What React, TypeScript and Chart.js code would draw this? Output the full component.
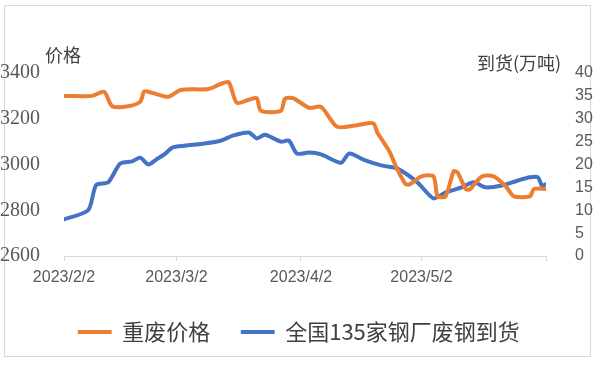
import React, { useEffect, useRef } from "react";
import { Chart, registerables } from "chart.js";

Chart.register(...registerables);

// x positions are days counted from 2023/2/2
const tickDays = [0, 28, 59, 89, 120];
const tickLabels = ["2023/2/2", "2023/3/2", "2023/4/2", "2023/5/2", ""];

const priceLabel = "重废价格";
const arrivalLabel = "全国135家钢厂废钢到货";

const priceDays = [0, 7, 10, 12, 16, 19, 20, 22, 26, 29, 36, 39, 41, 43, 46, 48, 49, 54, 55, 57, 61, 64, 68, 73, 77, 78, 81, 83, 85, 86, 89, 92, 93, 95, 97, 98, 100, 101, 104, 107, 110, 112, 116, 117, 120];
const priceValues = [3300, 3300, 3318, 3255, 3255, 3275, 3320, 3313, 3296, 3326, 3330, 3352, 3360, 3270, 3283, 3290, 3235, 3235, 3287, 3290, 3248, 3252, 3165, 3172, 3180, 3140, 3057, 2978, 2915, 2913, 2948, 2948, 2861, 2861, 2970, 2965, 2893, 2891, 2948, 2948, 2904, 2861, 2861, 2893, 2893];

const arrivalDays = [0, 6, 8, 11, 14, 17, 19, 21, 23, 25, 27, 30, 35, 39, 42, 46, 48, 50, 54, 56, 58, 61, 64, 69, 71, 75, 79, 83, 88, 92, 95, 99, 102, 105, 109, 113, 116, 118, 119, 120];
const arrivalValues = [8.0, 10.0, 15.5, 16.1, 20.2, 20.7, 21.5, 20.0, 21.1, 22.2, 23.7, 24.1, 24.6, 25.2, 26.3, 27.0, 25.7, 26.5, 25.0, 25.2, 22.4, 22.6, 22.2, 20.4, 22.4, 20.9, 19.8, 19.1, 16.1, 12.6, 13.9, 15.0, 16.1, 15.0, 15.4, 16.5, 17.2, 17.2, 15.4, 15.7];

const leftTitle = "价格";
const rightTitle = "到货(万吨)";

const ORANGE = "#ED7D31";
const BLUE = "#4472C4";
const GREY = "#595959";
const AXIS = "#d9d9d9";
const CJK = '"Noto Sans CJK SC", "Noto Sans", sans-serif';

const titlesPlugin = {
  id: "cornerTitles",
  afterDraw(chart: any) {
    const { ctx, chartArea } = chart;
    ctx.save();
    ctx.font = `18px ${CJK}`;
    ctx.fillStyle = "#404040";
    ctx.textBaseline = "middle";
    ctx.textAlign = "left";
    ctx.fillText(leftTitle, chartArea.left - 19, chartArea.top - 18);
    ctx.fillText(rightTitle, chartArea.right - 69, chartArea.top - 10);
    ctx.restore();
  },
};

export default function App() {
  const ref = useRef<HTMLCanvasElement | null>(null);

  useEffect(() => {
    if (!ref.current) return;
    const chart = new Chart(ref.current, {
      type: "line",
      data: {
        datasets: [
          {
            label: priceLabel,
            data: priceDays.map((d, i) => ({ x: d, y: priceValues[i] })),
            borderColor: ORANGE,
            backgroundColor: ORANGE,
            borderWidth: 4,
            pointRadius: 0,
            tension: 0.25,
            borderCapStyle: "round",
            borderJoinStyle: "round",
            yAxisID: "y",
          },
          {
            label: arrivalLabel,
            data: arrivalDays.map((d, i) => ({ x: d, y: arrivalValues[i] })),
            borderColor: BLUE,
            backgroundColor: BLUE,
            borderWidth: 4,
            pointRadius: 0,
            tension: 0.25,
            borderCapStyle: "round",
            borderJoinStyle: "round",
            yAxisID: "y1",
          },
        ],
      },
      options: {
        responsive: false,
        devicePixelRatio: 1,
        animation: false,
        layout: { padding: { top: 73, bottom: 12, left: 0, right: 0 } },
        plugins: {
          tooltip: { enabled: false },
          legend: {
            position: "bottom",
            labels: {
              boxWidth: 33,
              boxHeight: 3,
              padding: 31,
              color: "#404040",
              font: { family: CJK, size: 22 },
              generateLabels: (c: any) =>
                c.data.datasets.map((ds: any, i: number) => ({
                  text: ds.label,
                  fillStyle: ds.borderColor,
                  strokeStyle: ds.borderColor,
                  lineWidth: 1,
                  hidden: false,
                  datasetIndex: i,
                  fontColor: "#404040",
                })),
            },
          },
        },
        scales: {
          x: {
            type: "linear",
            min: 0,
            max: 120,
            afterBuildTicks: (s: any) => {
              s.ticks = tickDays.map((v) => ({ value: v }));
            },
            afterFit: (s: any) => {
              s.height = 34;
            },
            grid: {
              display: true,
              drawOnChartArea: false,
              drawTicks: true,
              tickLength: 5,
              color: AXIS,
            },
            border: { display: true, color: AXIS, width: 1 },
            ticks: {
              autoSkip: false,
              maxRotation: 0,
              padding: 7,
              color: GREY,
              font: { family: '"Liberation Sans", sans-serif', size: 16 },
              callback: (v: any) => {
                const i = tickDays.indexOf(Number(v));
                return i >= 0 ? tickLabels[i] : "";
              },
            },
          },
          y: {
            position: "left",
            min: 2600,
            max: 3400,
            afterFit: (s: any) => {
              s.width = 64;
            },
            grid: { display: false },
            border: { display: false },
            ticks: {
              stepSize: 200,
              padding: 16,
              color: GREY,
              font: { family: '"Liberation Serif", serif', size: 20 },
              callback: (v: any) => String(v),
            },
          },
          y1: {
            position: "right",
            min: 0,
            max: 40,
            afterFit: (s: any) => {
              s.width = 52;
            },
            grid: { display: false },
            border: { display: false },
            ticks: {
              stepSize: 5,
              padding: 21,
              color: GREY,
              font: { family: '"Liberation Sans", sans-serif', size: 16 },
              callback: (v: any) => String(v),
            },
          },
        },
      },
      plugins: [titlesPlugin],
    } as any);
    return () => chart.destroy();
  }, []);

  return (
    <div style={{ position: "fixed", left: 0, top: 0, width: 598, height: 365, background: "#fff" }}>
      <div
        style={{
          position: "absolute",
          left: 4,
          top: 5,
          width: 587,
          height: 352,
          border: `1px solid ${AXIS}`,
          boxSizing: "border-box",
        }}
      />
      <canvas ref={ref} width={598} height={365} style={{ position: "absolute", left: 0, top: 0 }} />
    </div>
  );
}
